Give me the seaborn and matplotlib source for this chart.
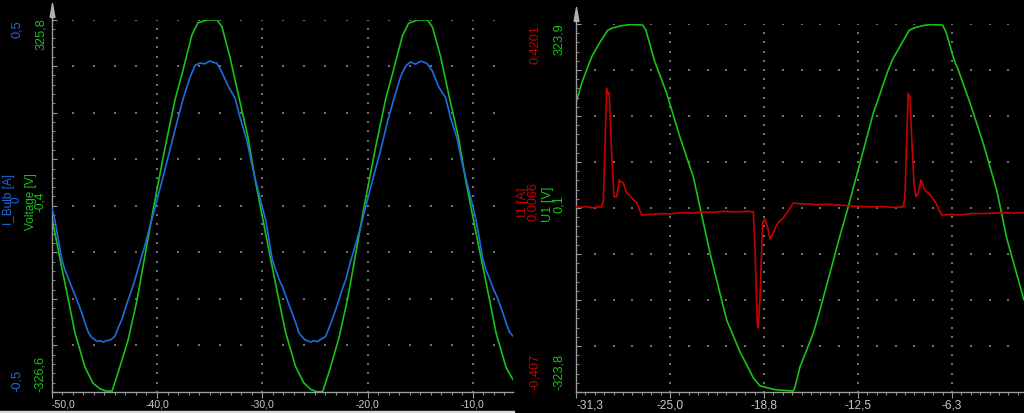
import numpy as np
import pandas as pd
import matplotlib
matplotlib.use("Agg")
import matplotlib.pyplot as plt
from matplotlib.patches import Rectangle
import seaborn as sns

# ---------------- data ----------------
# Left panel: time [ms], Voltage [V]
left_volt_t = [-50.00, -49.05, -48.42, -47.79, -46.84, -46.08, -45.41, -44.84, -44.27, -43.70,
               -42.75, -41.90, -40.30, -39.24, -38.29, -37.53, -36.68, -36.11, -35.25, -34.30,
               -33.83, -33.07, -32.31, -31.36, -30.69, -30.20, -29.80, -29.05, -28.42, -27.79,
               -26.84, -26.08, -25.41, -24.84, -24.27, -23.70, -22.75, -21.90, -20.30, -19.24,
               -18.29, -17.53, -16.68, -16.11, -15.25, -14.30, -13.83, -13.07, -12.31, -11.36,
               -10.69, -10.20, -9.80, -9.05, -8.42, -7.79, -6.84, -6.19]
left_volt_v = [-20, -108, -165, -223, -283, -311, -321, -325, -325, -293,
               -236, -166, -1, 101, 185, 237, 299, 320, 325, 325,
               313, 260, 197, 120, 46, 0, -38, -108, -166, -222,
               -282, -310, -322, -326, -326, -294, -234, -164, 1, 102,
               186, 238, 298, 319, 325, 325, 312, 261, 196, 118,
               45, -1, -39, -107, -165, -224, -284, -305]

# Left panel: time [ms], I_Bulb [A]
left_curr_t = [-50.00, -49.69, -49.35, -49.05, -48.75, -48.42, -48.05, -47.63, -47.15, -46.80,
               -46.52, -46.20, -45.95, -45.73, -45.41, -45.10, -44.78, -44.40, -43.99, -43.65,
               -43.33, -42.85, -42.40, -42.09, -41.60, -41.14, -40.60, -40.14, -39.45, -38.77,
               -38.10, -37.50, -36.87, -36.39, -35.92, -35.45, -34.97, -34.60, -34.33, -33.86,
               -33.23, -32.59, -32.12, -31.48, -31.05, -30.69, -30.03,
               -29.69, -29.35, -29.05, -28.75, -28.42, -28.05, -27.63, -27.15, -26.80,
               -26.52, -26.20, -25.95, -25.73, -25.41, -25.10, -24.78, -24.40, -23.99, -23.65,
               -23.33, -22.85, -22.40, -22.09, -21.60, -21.14, -20.60, -20.14, -19.45, -18.77,
               -18.10, -17.50, -16.87, -16.39, -15.92, -15.45, -14.97, -14.60, -14.33, -13.86,
               -13.23, -12.59, -12.12, -11.48, -11.05, -10.69, -10.03,
               -9.69, -9.35, -9.05, -8.75, -8.42, -8.05, -7.63, -7.15, -6.80, -6.52, -6.19]
left_curr_i = [-0.004, -0.040, -0.095, -0.143, -0.172, -0.195, -0.222, -0.251, -0.287, -0.318,
               -0.340, -0.354, -0.358, -0.364, -0.362, -0.366, -0.362, -0.360, -0.350, -0.325,
               -0.305, -0.262, -0.226, -0.198, -0.150, -0.106, -0.048, 0.000, 0.075, 0.150,
               0.225, 0.289, 0.344, 0.377, 0.383, 0.381, 0.389, 0.384, 0.383, 0.360,
               0.320, 0.289, 0.238, 0.177, 0.120, 0.074, 0.000,
               -0.038, -0.093, -0.145, -0.170, -0.197, -0.220, -0.253, -0.289, -0.316,
               -0.342, -0.352, -0.360, -0.362, -0.366, -0.362, -0.365, -0.358, -0.351, -0.327,
               -0.303, -0.264, -0.224, -0.200, -0.148, -0.104, -0.050, 0.002, 0.077, 0.148,
               0.227, 0.287, 0.346, 0.375, 0.386, 0.380, 0.388, 0.385, 0.381, 0.362,
               0.318, 0.290, 0.236, 0.179, 0.118, 0.076, 0.001,
               -0.041, -0.094, -0.144, -0.173, -0.196, -0.223, -0.250, -0.288, -0.319, -0.339, -0.350]

# Right panel: time [ms], U1 [V]
right_volt_t = [-31.25, -30.87, -30.21, -29.70, -29.14, -28.81, -28.20, -27.59, -26.82, -26.60,
                -26.04, -25.22, -24.34, -23.45, -23.01, -22.34, -21.68, -21.23, -20.35, -19.90,
                -19.46, -19.02, -18.13, -17.91, -16.80, -16.69, -16.36, -15.91, -15.47, -15.03,
                -13.74, -13.17, -12.37, -11.48, -10.49, -10.19, -9.09, -8.76, -8.20, -7.65,
                -6.87, -6.65, -6.10, -5.83, -5.05, -4.17, -3.28, -2.95, -2.61, -1.46]
right_volt_v = [185, 220, 266, 290, 313, 317, 321, 323, 322, 313,
                260, 202, 125, 55, 2, -79, -150, -197, -253, -276,
                -299, -313, -319, -320, -322, -315, -280, -250, -220, -180,
                -53, 0, 79, 167, 243, 262, 313, 317, 321, 323,
                322, 310, 260, 243, 185, 114, 32, -9, -53, -162]

# Right panel: time [ms], I1 [A]
right_curr_t = [-31.25, -30.90, -30.55, -30.20, -29.85, -29.54, -29.43, -29.21, -29.10, -29.04,
                -28.88, -28.72, -28.54, -28.37, -28.25, -28.10, -27.88, -27.70, -27.55, -27.21,
                -26.88, -26.30, -25.60, -25.00, -24.30, -23.60, -23.01, -22.20, -21.40, -20.60,
                -19.90, -19.46, -19.35, -19.20, -19.13, -19.02, -18.84, -18.68, -18.53, -18.35,
                -18.13, -17.91, -17.70, -17.47, -17.10, -16.80, -16.40, -15.91, -15.30, -14.60,
                -13.70, -13.00, -12.37, -11.60, -10.80, -10.10, -9.49, -9.38, -9.16, -9.04,
                -8.93, -8.78, -8.64, -8.49, -8.31, -8.05, -7.71, -7.38, -6.93, -6.40,
                -5.72, -5.00, -4.20, -3.50, -2.70, -2.10, -1.51]
right_curr_i = [0.009, 0.008, 0.010, 0.007, 0.009, 0.009, 0.025, 0.276, 0.262, 0.265,
                0.130, 0.032, 0.032, 0.070, 0.065, 0.063, 0.040, 0.036, 0.029, 0.018,
                -0.009, -0.008, -0.006, -0.007, -0.004, -0.005, -0.003, -0.003, -0.001, -0.002,
                -0.001, -0.002, -0.080, -0.250, -0.263, -0.200, -0.027, -0.018, -0.035, -0.063,
                -0.049, -0.032, -0.022, -0.016, 0.002, 0.018, 0.016, 0.016, 0.014, 0.015,
                0.013, 0.011, 0.010, 0.009, 0.010, 0.008, 0.009, 0.032, 0.264, 0.253,
                0.167, 0.063, 0.032, 0.040, 0.070, 0.047, 0.036, 0.021, -0.009, -0.008,
                -0.009, -0.006, -0.006, -0.005, -0.004, -0.005, -0.004]

# axis ranges and labels
left_xlim = (-50.0, -6.19)
left_xticks = [-50, -40, -30, -20, -10]
left_xlabels = ["-50,0", "-40,0", "-30,0", "-20,0", "-10,0"]
left_vlim = (-326.6, 325.8)
left_ilim = (-0.5, 0.5)
left_labels_curr = ["0,5", "I_Bulb [A]\n0", "-0,5"]
left_labels_volt = ["325,8", "Voltage [V]\n-0,4", "-326,6"]

right_xlim = (-31.25, -1.46)
right_xticks = [-31.25, -25.0, -18.75, -12.5, -6.25]
right_xlabels = ["-31,3", "-25,0", "-18,8", "-12,5", "-6,3"]
right_vlim = (-323.8, 323.9)
right_ilim = (-0.407, 0.4201)
right_labels_curr = ["0,4201", "I1 [A]\n0,0066", "-0,407"]
right_labels_volt = ["323,9", "U1 [V]\n0,1", "-323,8"]

# ---------------- styling ----------------
BLUE = "#1f6be0"
GREEN = "#16c416"
RED = "#c80000"
GRAY = "#9a9a9a"
TXT = "#c8c8c8"

sns.set_theme(style="dark", rc={"axes.facecolor": "black", "figure.facecolor": "black"})
plt.rcParams["font.family"] = ["Liberation Sans", "DejaVu Sans"]

W, H = 1024, 413
fig = plt.figure(figsize=(W / 100, H / 100), dpi=100, facecolor="black")


def fx(px):
    return px / W


def fy(py):
    return 1 - py / H


axL = fig.add_axes([fx(51.7), fy(392), (513 - 51.7) / W, (392 - 19.5) / H])
axR = fig.add_axes([fx(576), fy(392), (1024 - 576) / W, (392 - 24) / H])

arrow_marker = [(-0.35, -1.0), (0.35, -1.0), (0.0, 1.0), (-0.35, -1.0)]


def style(ax, xlim, ylim, xticks, xlabels, xminor, xdot, fs, arrow_off):
    ax.set_facecolor("black")
    ax.set_xlim(*xlim)
    ax.set_ylim(*ylim)
    for s in ["top", "right"]:
        ax.spines[s].set_visible(False)
    for s in ["left", "bottom"]:
        ax.spines[s].set_color(GRAY)
        ax.spines[s].set_linewidth(1.0)
    yt = np.linspace(ylim[0], ylim[1], 9)
    ax.set_yticks(yt)
    ax.set_yticks(np.linspace(ylim[0], ylim[1], 41), minor=True)
    ax.set_yticklabels([])
    ax.set_xticks(xticks)
    ax.set_xticks(np.arange(xlim[0], xlim[1], xminor), minor=True)
    ax.set_xticklabels(xlabels, fontsize=fs, color=TXT)
    lbls = ax.get_xticklabels()
    lbls[0].set_horizontalalignment("left")
    ax.tick_params(axis="x", which="major", direction="out", length=4.5, width=0.8,
                   color=GRAY, pad=1.2, bottom=True)
    ax.tick_params(axis="x", which="minor", direction="out", length=2, width=0.7,
                   color=GRAY, bottom=True)
    ax.tick_params(axis="y", which="major", direction="in", length=3.5, width=0.8,
                   color=GRAY, left=True)
    ax.tick_params(axis="y", which="minor", direction="in", length=1.8, width=0.6,
                   color=GRAY, left=True)
    ax.grid(False)
    # dotted oscilloscope grid
    gx, gy = [], []
    for y in yt[1:]:
        xs = np.arange(xlim[0] + xdot, xlim[1], xdot)
        gx.extend(xs)
        gy.extend([y] * len(xs))
    ys = np.linspace(ylim[0], ylim[1], 41)
    for x in xticks[1:]:
        gx.extend([x] * len(ys))
        gy.extend(ys)
    ax.scatter(gx, gy, s=1.4, marker="s", color="#707070", linewidths=0, zorder=0.5)
    # axis arrow on top of y axis
    ax.plot([0, 0], [1, 1 + arrow_off], transform=ax.transAxes, color=GRAY, lw=1.0,
            clip_on=False)
    ax.plot([0], [1 + arrow_off], transform=ax.transAxes, marker=arrow_marker, ms=10,
            color="#b0b0b0", clip_on=False, linestyle="none")
    ax.set_xlabel("")
    ax.set_ylabel("")


style(axL, left_xlim, left_vlim, left_xticks, left_xlabels, 1.0, 2.0, 7.6, 10 / 372.5)
style(axR, right_xlim, right_vlim, right_xticks, right_xlabels, 0.625, 1.25, 8.6, 10 / 368)

# ---- left panel series
dfLV = pd.DataFrame({"t": left_volt_t, "v": left_volt_v})
dfLI = pd.DataFrame({"t": left_curr_t, "i": left_curr_i})
sns.lineplot(data=dfLV, x="t", y="v", ax=axL, color=GREEN, lw=1.2, estimator=None, sort=False)
axL2 = axL.twinx()
sns.lineplot(data=dfLI, x="t", y="i", ax=axL2, color=BLUE, lw=1.2, estimator=None, sort=False)
axL2.set_ylim(*left_ilim)
axL2.axis("off")
axL.set_xlabel("")
axL.set_ylabel("")

# ---- right panel series
dfRV = pd.DataFrame({"t": right_volt_t, "v": right_volt_v})
dfRI = pd.DataFrame({"t": right_curr_t, "i": right_curr_i})
sns.lineplot(data=dfRV, x="t", y="v", ax=axR, color=GREEN, lw=1.2, estimator=None, sort=False)
axR2 = axR.twinx()
sns.lineplot(data=dfRI, x="t", y="i", ax=axR2, color=RED, lw=1.2, estimator=None, sort=False)
axR2.set_ylim(*right_ilim)
axR2.axis("off")
axR.set_xlabel("")
axR.set_ylabel("")

# ---- y-axis value labels (rotated, coloured)
FS = 9.2
FSM = 8.5


def vtext(px, py, s, color, va, ls=1.2, fs=FS):
    fig.text(fx(px), fy(py), s, rotation=90, ha="center", va=va, color=color,
             fontsize=fs, linespacing=ls, multialignment="center")


# left
vtext(17, 20, left_labels_curr[0], BLUE, "top")
vtext(13, 200, left_labels_curr[1], BLUE, "center", 0.5, FSM)
vtext(17, 392, left_labels_curr[2], BLUE, "bottom")
vtext(41, 18, left_labels_volt[0], GREEN, "top")
vtext(35.5, 202, left_labels_volt[1], GREEN, "center", 0.6, FSM)
vtext(40, 392, left_labels_volt[2], GREEN, "bottom")
# right
vtext(535, 25, right_labels_curr[0], RED, "top")
vtext(528, 202, right_labels_curr[1], RED, "center", 0.7)
vtext(535, 390, right_labels_curr[2], RED, "bottom")
vtext(559, 23, right_labels_volt[0], GREEN, "top")
vtext(553.5, 204, right_labels_volt[1], GREEN, "center", 1.0)
vtext(559, 390, right_labels_volt[2], GREEN, "bottom")

# thin light band at the bottom of the left screenshot
fig.patches.append(Rectangle((0, 0), 514 / W, 2.5 / H, transform=fig.transFigure,
                             color="#d8d8d8", zorder=10))

fig.savefig("out.png", dpi=100, facecolor="black")
